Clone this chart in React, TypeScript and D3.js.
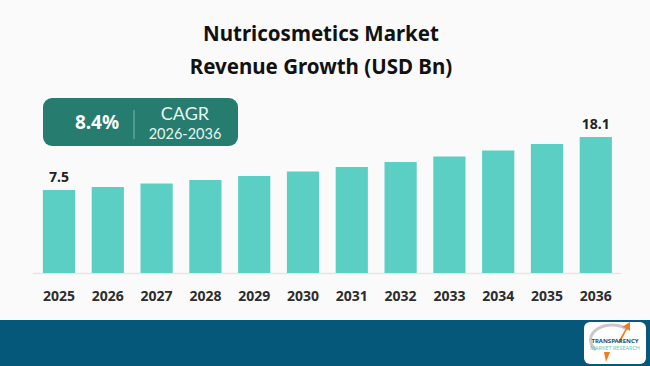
import React from "react";
import { scaleBand, scaleLinear } from "d3";

const years = ["2025", "2026", "2027", "2028", "2029", "2030", "2031", "2032", "2033", "2034", "2035", "2036"];
const revenue = [7.5, 8.1, 8.8, 9.5, 10.3, 11.2, 12.1, 13.1, 14.2, 15.4, 16.7, 18.1];
const labelled = ["2025", "2036"];
const titleLines = ["Nutricosmetics Market", "Revenue Growth (USD Bn)"];
const cagrValue = "8.4%";
const cagrLabel = "CAGR";
const cagrPeriod = "2026-2036";

const W = 650;
const H = 366;
const baseY = 273;

export default function App() {
  const x = scaleBand<string>()
    .domain(years)
    .range([34.6, 620.2])
    .paddingInner(0.34)
    .paddingOuter(0.17);

  // the source chart does not start its bars at zero
  const y = scaleLinear().domain([-9.1, 18.1]).range([baseY, 137]);

  const font = "'Noto Sans', 'Open Sans', sans-serif";

  return (
    <svg width={W} height={H} style={{ position: "absolute", left: 0, top: 0 }} fontFamily={font}>
      <rect width={W} height={H} fill="#fafafa" />

      {titleLines.map((t, i) => (
        <text key={t} x={321} y={41 + i * 33} textAnchor="middle" fontSize={20.5} fontWeight="bold" fill="#111">
          {t}
        </text>
      ))}

      {/* CAGR badge */}
      <rect x={43} y={98} width={195} height={48} rx={9} fill="#267c6f" />
      <text x={97} y={129} textAnchor="middle" fontSize={19} fontWeight="bold" fill="#fff">{cagrValue}</text>
      <line x1={134} x2={134} y1={110} y2={139} stroke="#7fb8ae" strokeWidth={1} />
      <text x={185} y={120} textAnchor="middle" fontSize={18} fill="#e8f4f1" fontFamily="Lato, sans-serif">{cagrLabel}</text>
      <text x={185} y={139} textAnchor="middle" fontSize={14.5} fill="#e8f4f1" fontFamily="Lato, sans-serif">{cagrPeriod}</text>

      <line x1={33} x2={621} y1={baseY + 0.5} y2={baseY + 0.5} stroke="#e6e6e6" strokeWidth={1.5} />

      {years.map((yr, i) => (
        <g key={yr}>
          <rect
            x={x(yr)}
            y={y(revenue[i])}
            width={x.bandwidth()}
            height={baseY - y(revenue[i])}
            fill="#5ccfc4"
          />
          <text
            x={(x(yr) ?? 0) + x.bandwidth() / 2}
            y={301}
            textAnchor="middle"
            fontSize={14}
            fontWeight="bold"
            fill="#2d2d2d"
          >
            {yr}
          </text>
          {labelled.includes(yr) && (
            <text
              x={(x(yr) ?? 0) + x.bandwidth() / 2}
              y={y(revenue[i]) - 8}
              textAnchor="middle"
              fontSize={14}
              fontWeight="bold"
              fill="#222"
            >
              {revenue[i]}
            </text>
          )}
        </g>
      ))}

      {/* footer band + logo */}
      <rect x={0} y={320} width={W} height={46} fill="#05587a" />
      <rect x={584} y={322} width={62} height={42} rx={6} fill="#fff" />
      <path d="M596 350 A20 14 0 0 1 628 330" fill="none" stroke="#c9c9c9" strokeWidth={3} />
      <path d="M618 342 L626 328 L622 327 L630 322 L630 331 L627 329 L620 343 Z" fill="#f07c22" />
      <path d="M610 352 L606 362 L604 352 Z" fill="#f07c22" />
      <text x={615} y={343} textAnchor="middle" fontSize={6} fontWeight="bold" fill="#1d4f73">TRANSPARENCY</text>
      <text x={615} y={350} textAnchor="middle" fontSize={5.5} fill="#67c5b8">MARKET RESEARCH</text>
    </svg>
  );
}
